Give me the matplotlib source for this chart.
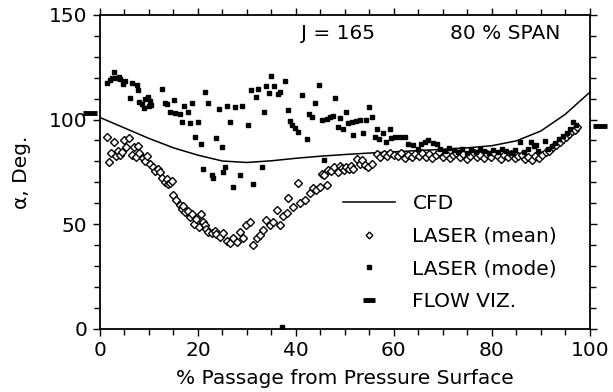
import matplotlib as mpl
import matplotlib.pyplot as plt
from matplotlib.ticker import MultipleLocator

mpl.use('Agg')

# CFD prediction
cfd_x = [0, 5, 10, 15, 20, 25, 30, 35, 40, 45, 50, 55, 60, 65, 70, 75, 80, 85, 90, 95, 100]
cfd_y = [101, 96, 91, 86.5, 83, 80.2, 79.5, 80.3, 81.5, 82.5, 83.3, 84, 84.6, 85.2, 85.8, 86.5,
         87.5, 89.8, 94.5, 102.5, 113]

# LASER (mean) - diamonds
mean_x = [1.4, 1.8, 2.2, 2.9, 3.2, 3.6, 4.0, 4.5, 5.0, 5.4, 5.9, 6.5, 7.0, 7.3, 7.8, 8.0, 8.8, 9.2,
          9.6, 10.2, 10.9, 11.3, 11.8, 12.3, 12.7, 13.2, 13.6, 13.9, 14.4, 14.7,
          15.0, 15.6, 16.3, 16.7, 17.0, 17.4, 18.0, 18.3, 18.9, 19.3, 19.7, 20.2, 20.6, 21.0,
          21.4, 21.7, 22.1, 22.8, 23.5, 23.8, 24.5, 25.2, 25.9, 26.5, 27.2, 27.9, 28.6, 29.2,
          29.9, 30.6, 31.3, 32.0, 32.7, 33.3, 34.0, 34.7, 35.4, 36.1, 36.7, 37.4, 38.1, 38.4,
          39.5, 40.5, 40.8, 41.8, 42.9, 43.5, 44.2, 44.9, 45.3, 45.8, 46.3, 46.6, 47.2, 47.8,
          48.6, 49.0, 49.4, 49.8, 50.3, 50.8, 51.2, 51.7, 52.4, 53.0, 53.6, 54.2, 54.8, 55.5,
          56.5, 57.2, 57.9, 58.6, 59.3, 60.0, 60.8, 61.5, 62.2, 63.0, 63.7,
          64.4, 65.1, 65.8, 66.5, 67.2, 67.9, 68.6, 69.3, 70.0, 70.7, 71.4, 72.1, 72.8, 73.5,
          74.2, 74.9, 75.6, 76.3, 77.0, 77.7, 78.4, 79.1, 79.8, 80.5, 81.2, 81.9, 82.6, 83.3,
          84.0, 84.7, 85.4, 86.1, 86.8, 87.5, 88.2, 88.9, 89.6, 90.3, 91.0, 91.7, 92.5, 93.2,
          93.9, 94.6, 95.2, 95.8, 96.3, 96.9, 97.4]
mean_y = [91.9, 79.5, 83.9, 89.5, 82.5, 85, 83, 84.5, 90, 87, 91, 83, 86.8, 82, 87.5, 84, 81.5, 80,
          82.5, 79, 77.5, 75.5, 76.5, 75, 72, 70, 71.5, 69, 69.5, 70.5,
          63.8, 61.8, 59, 57.5, 58.5, 55.8, 56.5, 53.5, 55, 50.2, 52.5, 48.5, 55, 51,
          49.5, 47.5, 46.5, 45.7, 47, 45.4, 44.1, 46, 42.2, 40.9, 43.3, 41.7, 46.5, 43.3,
          49.7, 51.3, 40.1, 43.3, 44.9, 47.3, 52.1, 49.7, 51.3, 56.9, 49.7, 53.7, 55.3, 62.4,
          58.4, 69.6, 60, 61.6, 64.8, 67.2, 66.5, 68, 74, 73.5, 68.8, 76, 75.5, 77.5,
          75, 78, 77, 76, 77.5, 76.5, 78, 76.5, 81, 79, 80.5, 78.5, 77.5, 79,
          83.5, 82, 83.5, 82.5, 84, 83, 82.5, 84, 81.8, 83, 82,
          83.5, 82.5, 84, 82, 83.5, 81.5, 83, 84.5, 82, 83.5, 81.5, 83, 84, 82,
          83.5, 81, 82.5, 84, 82, 83, 81.5, 83.5, 82, 84, 82.5, 81, 83, 82,
          83.5, 81.5, 82.5, 83, 81, 82, 80.5, 82.5, 81.5, 83, 84.5, 85, 87, 88,
          89.5, 90.5, 91.9, 93, 94.3, 95, 96.5]

# LASER (mode) - small squares
mode_x = [1.4, 2.0, 2.4, 2.9, 3.3, 3.8, 4.2, 4.7, 5.1, 6.1, 6.5, 7.5, 7.7, 8.0, 8.6, 9.0, 9.3, 9.8,
          10.3, 10.0, 10.5, 12.6, 13.3, 13.6, 14.3, 15.2, 15.3, 16.3, 16.8, 17.2, 17.9, 18.4,
          18.9, 19.4, 20.0, 20.6, 21.1, 21.4, 22.1, 22.8, 23.0, 23.8, 24.3, 24.9, 25.2, 25.5,
          26.0, 26.5, 27.1, 27.5, 28.6, 29.0, 30.2, 30.8, 31.3, 31.8, 32.3, 33.0, 33.5, 34.0,
          34.5, 35.0, 35.6, 36.3, 36.7, 37.2, 37.8, 38.3, 38.9, 39.3, 39.8, 40.5, 41.3, 42.2,
          42.7, 43.3, 43.9, 44.8, 45.3, 45.8, 46.3, 47.0, 47.5, 48.0, 48.6, 49.0, 49.7, 50.2,
          50.6, 51.4, 51.6, 52.3, 53.2, 53.7, 54.4, 55.0, 55.5, 56.1, 56.5, 57.0, 57.7, 58.4,
          59.2, 59.4, 60.2, 61.2, 62.2, 63.0, 64.0, 65.0, 65.5, 66.4, 67.0, 68.0, 68.8, 69.5,
          70.4, 71.3, 72.2, 73.1, 74.0, 74.9, 75.8, 76.7, 77.6, 78.5, 79.4, 80.3, 81.2, 82.1,
          83.0, 83.9, 84.8, 85.7, 86.6, 87.5, 88.0, 88.6, 89.0, 89.5, 90.8, 91.5, 92.3, 93.0,
          93.8, 94.5, 95.3, 96.0, 96.6, 97.2]
mode_y = [117.7, 119, 120, 122.9, 120, 120.5, 119.5, 117, 118.5, 110.2, 117.4, 116.6, 113.9, 108.5,
          107.5, 105.5, 110, 111, 109, 106.5, 107, 114.5, 107.8, 107.5, 103.5, 109.4, 103, 102.5,
          98.8, 106.5, 103.8, 98.5, 107.8, 91.6, 99, 88.2, 76.3, 113.4, 108.1, 73.5, 72, 91.1,
          105.1, 87, 75, 77.5, 106.5, 98.8, 67.7, 106, 73.5, 106.5, 97.5, 113.9, 69.1, 111,
          114.7, 77.5, 103.5, 115.8, 112.6, 120.6, 116.1, 112, 113, 1.0, 118.2, 104.6, 99.5,
          97.5, 96, 94, 111.8, 90.6, 102.5, 101, 107.8, 116.3, 100, 80.7, 100.5, 101, 101.5,
          110.2, 96.5, 100.6, 95.4, 103.4, 98.5, 99, 92.5, 99.5, 99.8, 93.5, 100, 106.2, 101,
          91.6, 95.5, 90.5, 93.7, 89.5, 95.4, 91, 91.5, 91.8, 91.5, 88.5, 88, 86, 88.5, 89.5, 90,
          89, 88.4, 86, 85, 86.5, 85.5, 84.5, 86, 84, 85.5, 84.5, 86, 85, 84, 85.5, 84.5, 86,
          85, 84, 85.5, 89.5, 84.5, 86, 89.5, 87.5, 88, 85, 89.8, 86, 87.5, 89, 90.5, 92, 93.5,
          95.5, 99, 97.5]

# flow visualisation marks, drawn just outside the axes
flow_x = [-2.0, 102.0]
flow_y = [103, 97]

plt.rcParams['font.family'] = 'DejaVu Sans'
plt.rcParams['font.size'] = 14.5

fig = plt.figure(figsize=(6.13, 3.92), dpi=100)
ax = fig.add_axes([0.163, 0.161, 0.799, 0.801])

ax.plot(cfd_x, cfd_y, color='black', lw=1.1, label='CFD')
ax.plot(mean_x, mean_y, ls='none', marker='D', ms=4.3, mfc='white', mec='black', mew=1.0,
        label='LASER (mean)')
ax.plot(mode_x, mode_y, ls='none', marker='s', ms=3.0, color='black', label='LASER (mode)')
ax.plot(flow_x, flow_y, ls='none', marker='_', ms=10, mew=3.5, color='black', clip_on=False,
        label='FLOW VIZ.')

ax.set_xlim(0, 100)
ax.set_ylim(0, 150)
ax.xaxis.set_major_locator(MultipleLocator(20))
ax.xaxis.set_minor_locator(MultipleLocator(5))
ax.yaxis.set_major_locator(MultipleLocator(50))
ax.yaxis.set_minor_locator(MultipleLocator(10))
ax.tick_params(which='both', direction='out', top=True, right=True, width=1.0)
ax.tick_params(which='major', length=5, pad=4)
ax.tick_params(which='minor', length=4)
for sp in ax.spines.values():
    sp.set_linewidth(1.3)

ax.set_xlabel('% Passage from Pressure Surface', labelpad=6)
ax.set_ylabel('\u03b1, Deg.', labelpad=13)

ax.text(41.0, 141, 'J = 165', ha='left', va='center')
ax.text(71.5, 141, '80 % SPAN', ha='left', va='center')

ax.legend(loc='upper left', bbox_to_anchor=(0.5595, 0.505), bbox_transform=fig.transFigure,
          frameon=False, handlelength=2.6, handletextpad=0.85, labelspacing=0.68,
          numpoints=1, markerscale=0.8, borderpad=0, borderaxespad=0)

fig.savefig('out.png', dpi=100)
